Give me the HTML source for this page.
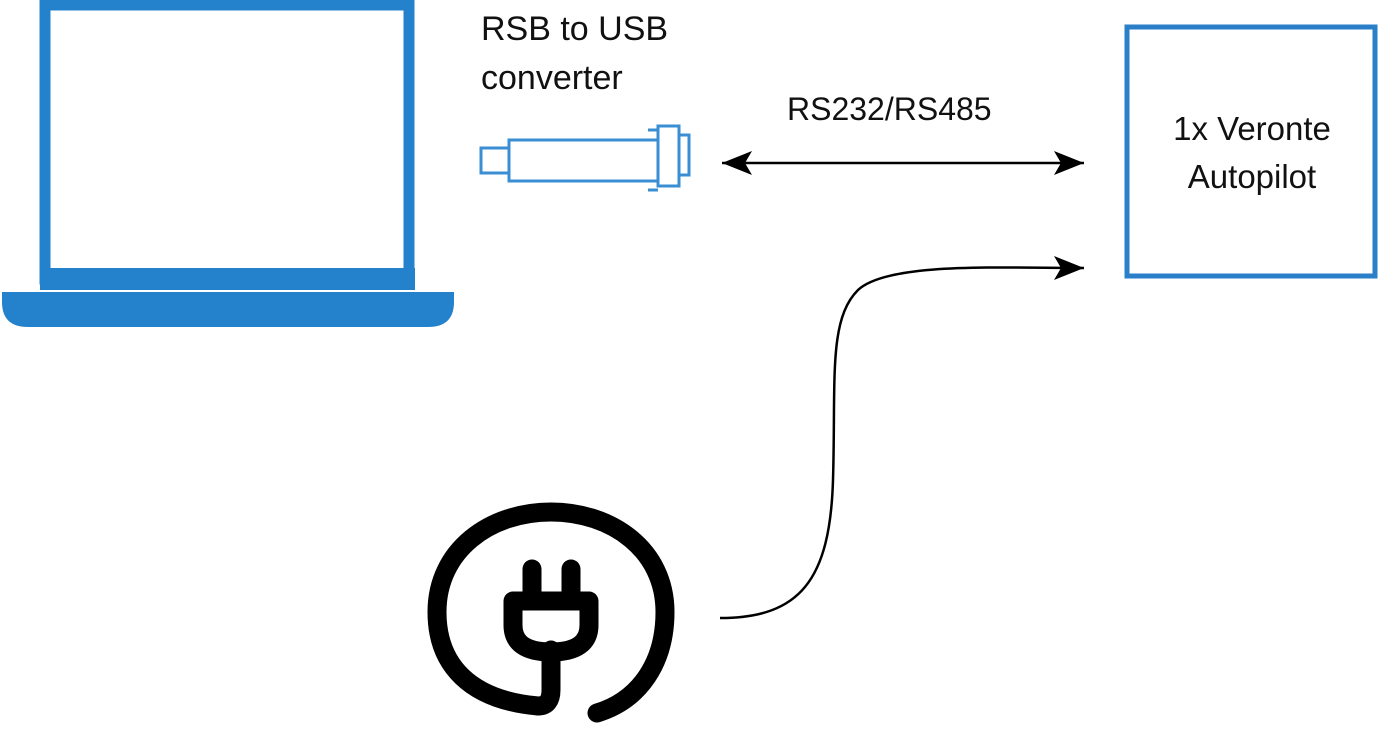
<!DOCTYPE html>
<html><head><style>
body{margin:0;background:#fff;width:1380px;height:733px;overflow:hidden}
svg{display:block}
text{font-family:"Liberation Sans",sans-serif;fill:#111}
</style></head><body>
<svg width="1380" height="733" viewBox="0 0 1380 733">
<defs>
<marker id="a" markerWidth="32" markerHeight="26" refX="30" refY="12" orient="auto-start-reverse" markerUnits="userSpaceOnUse"><path d="M0,0 L30,12 L0,24 L7,12 Z" fill="#000"/></marker>
</defs>
<!-- laptop -->
<rect x="45" y="5" width="364" height="274" fill="#fff" stroke="#2481cc" stroke-width="11"/>
<rect x="40" y="268" width="375" height="22" fill="#2481cc"/>
<path d="M2,292 H454 V302 Q454,327 428,327 H28 Q2,327 2,302 Z" fill="#2481cc"/>
<!-- converter -->
<g fill="none" stroke="#3a8fd4" stroke-width="3">
<rect x="481" y="148" width="28" height="25"/>
<rect x="509" y="140" width="149" height="41"/>
<rect x="658" y="126" width="21" height="60"/>
<rect x="679" y="135" width="10" height="40"/>
<line x1="648" y1="130" x2="658" y2="130"/>
<line x1="648" y1="190" x2="658" y2="190"/>
</g>
<!-- texts -->
<text x="481" y="40" font-size="34">RSB to USB</text>
<text x="481" y="89" font-size="34">converter</text>
<text x="787" y="120" font-size="32">RS232/RS485</text>
<text x="1252" y="140" font-size="33" text-anchor="middle">1x Veronte</text>
<text x="1252" y="188" font-size="33" text-anchor="middle">Autopilot</text>
<!-- box -->
<rect x="1127" y="27" width="248" height="249" fill="none" stroke="#2a7fc8" stroke-width="5"/>
<!-- arrows -->
<line x1="722" y1="163" x2="1084" y2="163" stroke="#000" stroke-width="2.5" marker-start="url(#a)" marker-end="url(#a)"/>
<path d="M720,618 C800,618 830,580 833,480 C836,380 828,320 858,290 C888,262 1000,268 1084,268" fill="none" stroke="#000" stroke-width="2.5" marker-end="url(#a)"/>
<!-- plug -->
<g fill="none" stroke="#000" stroke-width="19" stroke-linecap="round" stroke-linejoin="round">
<path d="M538,706 C470,700 437,665 437,612 C437,550 490,512 551,512 C612,512 665,550 665,612 C665,662 640,700 597,713"/>
<path d="M538,706 Q551,706 551,690 V650"/>
<path d="M513,601 H589 V625 Q589,652 551,652 Q513,652 513,625 Z"/>
<line x1="532" y1="569" x2="532" y2="598"/>
<line x1="571" y1="569" x2="571" y2="598"/>
</g>
</svg>
</body></html>
